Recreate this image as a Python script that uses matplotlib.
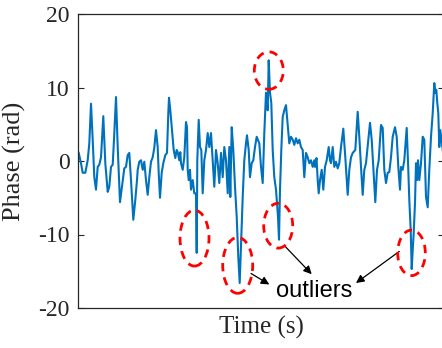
import matplotlib
matplotlib.use("Agg")
import matplotlib.pyplot as plt
from matplotlib.patches import Ellipse

time = [0.7, 3.0, 4.7, 7.3, 9.7, 11.3, 13.0, 14.7, 16.3, 18.0, 19.7, 21.3, 23.0, 25.3, 27.3, 29.7, 31.3, 33.0, 34.7, 36.0, 38.0, 39.7, 42.0, 44.0, 46.3, 48.0, 49.7, 51.3, 53.0, 55.3, 57.3, 59.0,
        59.7, 61.3, 63.0, 64.7, 66.3, 68.0, 69.7, 71.3, 73.0, 74.7, 76.3, 78.0, 79.7, 80.7, 82.0, 83.7, 85.3, 87.3, 89.0, 90.3, 91.0, 92.3, 94.0, 95.7, 97.3, 98.7, 99.7, 101.3, 102.3, 103.0, 104.7, 106.3, 108.0, 109.0, 109.7, 110.7, 112.0, 113.0, 114.7, 116.3, 118.0, 118.7, 119.3, 120.7,
        122.0, 123.3, 124.7, 126.3, 128.0, 129.7, 131.3, 133.0, 134.7, 136.3, 138.0, 139.7, 141.3, 143.0, 144.7, 146.3, 148.0, 149.7, 151.3, 152.3, 153.7, 155.3, 157.0, 158.7, 160.3, 161.7, 163.3, 164.7, 166.3, 168.0, 169.0, 170.7, 172.0, 173.7, 175.3, 177.0, 178.7,
        181.3, 183.0, 184.7, 186.3, 188.0, 189.7, 190.7, 192.0, 193.3, 194.7, 196.3, 198.0, 199.0, 200.0, 201.0, 202.0, 203.3, 204.7, 206.3, 208.0, 209.0, 210.3, 211.3, 213.0, 214.7, 216.3, 218.0, 219.7, 221.3, 223.0, 224.7, 226.3, 228.0, 229.7, 231.3, 233.0, 234.7, 236.3, 237.0, 238.5, 239.7,
        240.7, 242.0, 243.7, 245.3, 247.0, 248.7, 250.7, 252.0, 253.0, 254.7, 256.3, 258.0, 259.7, 261.3, 263.0, 265.3, 267.3, 269.7, 271.3, 273.0, 274.7, 277.3, 279.7, 281.3, 283.0, 284.7, 286.3, 288.0, 290.3, 292.0, 293.7, 295.3, 297.3, 299.0,
        300.7, 303.0, 304.7, 306.3, 308.0, 309.7, 311.3, 313.0, 314.7, 317.0, 318.7, 320.3, 322.0, 323.0, 324.7, 326.3, 328.7, 330.3, 331.3, 332.7, 333.7, 334.7, 335.7, 337.0, 338.0, 339.0, 340.0, 341.3, 343.0, 344.7, 346.3, 348.0, 349.7, 351.3, 353.0, 354.7, 356.3, 357.3, 358.3, 359.3, 360.3, 361.3, 362.3, 364.0, 365.5]

phase = [1.1, -0.3, -1.6, -1.6, 0.1, 2.4, 7.8, 2.9, -2.2, -3.9, -0.8, -0.5, 0.5, 6.1, -0.3, -4.2, -3.5, -0.8, -0.5, 2.9, 8.7, 1.9, -5.6, -3.5, -1.0, -0.8, 0.8, 1.1, -2.6, -8.0, -5.3, -2.6,
         -1.2, -0.1, 0.1, -1.2, -0.1, -2.6, -4.6, -2.2, -0.1, 0.5, 1.8, 4.2, 1.9, -1.6, -5.0, -1.6, -0.3, 0.8, 1.1, 6.5, 8.6, 6.9, 4.2, 1.5, 0.4, 1.5, 1.2, 0.1, 1.2, -0.3, -1.2, 0.5, 5.3, 4.6, -1.2, -2.6, -1.2, -3.9, -2.6, -4.4, -4.4, -12.5, 0.1, 5.6,
         1.9, 1.5, -4.4, 0.1, 1.5, 3.8, 1.9, 3.8, 0.1, -3.5, 1.5, -0.3, -3.0, 1.1, -2.2, 1.9, 0.1, -4.4, 1.9, -4.9, 4.6, 1.5, -3.5, -7.6, -13.1, -16.6, -10.3, -4.9, 0.1, 2.4, 3.5, 1.5, -2.2, -0.3, 0.1, 1.9, 3.3,
         2.4, -0.8, -3.0, 3.8, 9.3, 6.9, 13.7, 9.3, 7.9, 1.5, -2.2, -3.9, -5.7, -7.6, -10.7, -3.9, 1.5, 6.0, 6.9, 7.6, 6.0, 3.8, 2.4, 3.3, 2.9, 2.2, 3.1, 2.4, 2.9, 1.9, 1.5, -2.2, 1.1, 0.5, -0.3, 0.1, -0.8, 0.1, -0.8, 0.4, -2.6,
         -4.4, -2.6, -1.2, -3.9, -0.8, 0.1, 1.9, 0.1, -0.3, 1.9, -0.8, -0.1, -1.0, -0.3, 1.9, 4.4, 0.5, -4.6, -1.2, 0.5, 1.1, 1.5, 6.7, 3.3, -0.8, -4.6, -1.2, -0.3, 2.9, 5.2, 2.9, -0.8, -5.6, -1.2,
         0.1, 4.9, 4.5, -1.2, -3.0, -1.6, -1.5, 0.5, 3.3, 4.6, 3.3, -0.8, -3.9, -0.8, -1.2, 0.1, 4.5, -1.2, -5.3, -9.4, -14.7, -12.1, -9.8, -5.7, -0.3, -2.6, 0.1, -2.6, -0.3, 3.3, 2.9, -4.9, -6.3, -1.2, 3.3, 6.5, 10.6, 9.3, 9.7, 7.9, 6.5, 1.9, 4.2, 2.4, 0.5]

yticks = [-20, -10, 0, 10, 20]

# outlier markers: (time centre, phase centre, width, height)
ellipse_t = [116.5, 159.7, 200.2, 333.5, 190.8]
ellipse_v = [-10.5, -14.2, -8.8, -12.5, 12.3]
ellipse_w = [29, 30, 29, 27.6, 29]
ellipse_h = [7.6, 7.6, 6.1, 6.2, 5.1]

arrow_start = [(173, -15.3), (206.3, -11.5), (321.3, -12.3)]
arrow_end = [(191.3, -16.8), (233.7, -15.4), (278, -16.6)]

serif = ["Liberation Serif", "DejaVu Serif"]

fig = plt.figure(figsize=(4.42, 3.48), dpi=100)
ax = fig.add_axes([78 / 442, 40 / 348, 366 / 442, 294 / 348])
ax.plot(time, phase, color="#0072BD", lw=1.5)
ax.set_xlim(0, 366)
ax.set_ylim(-20, 20)
ax.set_yticks(yticks)
ax.set_yticklabels([str(v) for v in yticks], fontfamily=serif, fontsize=17)
ax.set_xticks([])
ax.tick_params(axis="y", direction="in", length=4, width=0.8, color="#262626",
               right=True, pad=6, labelcolor="#262626")
for s in ax.spines.values():
    s.set_color("#262626")
    s.set_linewidth(0.9)
ax.set_xlabel("Time (s)", fontfamily=serif, fontsize=18, color="#262626", labelpad=6)
ax.set_ylabel("Phase (rad)", fontfamily=serif, fontsize=19, color="#262626", labelpad=9)

for t, v, w, h in zip(ellipse_t, ellipse_v, ellipse_w, ellipse_h):
    ax.add_patch(Ellipse((t, v), w, h, fill=False, edgecolor="red", lw=2,
                         linestyle=(0, (3, 2.2)), zorder=5))

for s, e in zip(arrow_start, arrow_end):
    ax.annotate("", xy=e, xytext=s,
                arrowprops=dict(arrowstyle="-|>", color="black", lw=0.9,
                                mutation_scale=12, shrinkA=0, shrinkB=0))

ax.text(236, -17.7, "outliers", fontfamily=["Liberation Sans", "DejaVu Sans"],
        fontsize=17, ha="center", va="center", color="black")

fig.savefig("out.png", dpi=100)
